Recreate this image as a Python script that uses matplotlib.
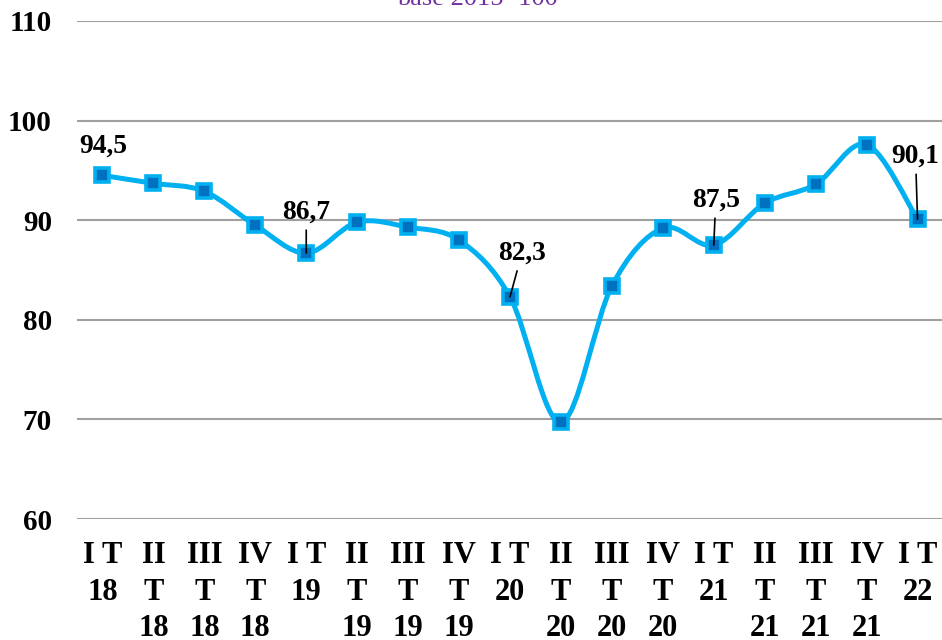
import matplotlib
matplotlib.use("Agg")
import matplotlib.pyplot as plt
from matplotlib.path import Path
from matplotlib.patches import PathPatch

# Data
quarters = ["I T\n18", "II\nT\n18", "III\nT\n18", "IV\nT\n18",
            "I T\n19", "II\nT\n19", "III\nT\n19", "IV\nT\n19",
            "I T\n20", "II\nT\n20", "III\nT\n20", "IV\nT\n20",
            "I T\n21", "II\nT\n21", "III\nT\n21", "IV\nT\n21",
            "I T\n22"]
values = [94.5, 93.7, 92.9, 89.5, 86.7, 89.8, 89.3, 88.0, 82.3,
          69.7, 83.4, 89.2, 87.5, 91.7, 93.6, 97.6, 90.1]
labelled = {0: "94,5", 4: "86,7", 8: "82,3", 12: "87,5", 16: "90,1"}
label_offsets = {0: (1, 29), 4: (0, 41), 8: (12, 44), 12: (2, 45), 16: (-2, 63)}

plt.rcParams['font.family'] = ['Liberation Serif', 'DejaVu Serif']

fig = plt.figure(figsize=(9.42, 6.4), dpi=100)
ax = fig.add_axes([77 / 942, 1 - 519 / 640, 866 / 942, 498 / 640])

x = list(range(len(values)))

# Smoothed line (cubic Bezier, Catmull-Rom style control points)
verts = [(x[0], values[0])]
codes = [Path.MOVETO]
n = len(values)
for i in range(n - 1):
    p0 = (x[max(i - 1, 0)], values[max(i - 1, 0)])
    p1 = (x[i], values[i])
    p2 = (x[i + 1], values[i + 1])
    p3 = (x[min(i + 2, n - 1)], values[min(i + 2, n - 1)])
    c1 = (p1[0] + (p2[0] - p0[0]) / 6, p1[1] + (p2[1] - p0[1]) / 6)
    c2 = (p2[0] - (p3[0] - p1[0]) / 6, p2[1] - (p3[1] - p1[1]) / 6)
    verts += [c1, c2, p2]
    codes += [Path.CURVE4] * 3
ax.add_patch(PathPatch(Path(verts, codes), facecolor='none',
                       edgecolor='#00B0F0', lw=3.6, zorder=3,
                       capstyle='round', joinstyle='round'))

ax.plot(x, values, linestyle='none', marker='s', markersize=10,
        markerfacecolor='#0070C0', markeredgecolor='#00B0F0',
        markeredgewidth=2.6, zorder=4)

for i, txt in labelled.items():
    dx, dy = label_offsets[i]
    arrow = None
    if i != 0:
        arrow = dict(arrowstyle='-', color='black', lw=1.2,
                     shrinkA=2, shrinkB=0)
    ax.annotate(txt, (x[i], values[i]), xytext=(dx, dy),
                textcoords='offset pixels', ha='center', va='center',
                fontsize=19.8, fontweight='bold', arrowprops=arrow,
                zorder=5)

ax.set_xlim(-0.5, 16.5)
ax.set_ylim(60, 110)
ax.set_yticks(range(60, 111, 10))
ax.set_xticks(x)
ax.set_xticklabels(quarters, linespacing=1.34)
ax.yaxis.grid(True, color='#A0A0A0', lw=1.5)
ax.set_axisbelow(True)
for s in ax.spines.values():
    s.set_visible(False)
ax.tick_params(axis='y', length=0, labelsize=21, pad=18)
ax.tick_params(axis='x', length=0, labelsize=22, pad=16)
for lab in ax.get_xticklabels() + ax.get_yticklabels():
    lab.set_fontweight('bold')

fig.text(477 / 942, 1 - 5 / 640, "base 2015=100", ha='center',
         va='baseline', fontsize=19, color='#7030A0')

fig.savefig('out.png', dpi=100)
